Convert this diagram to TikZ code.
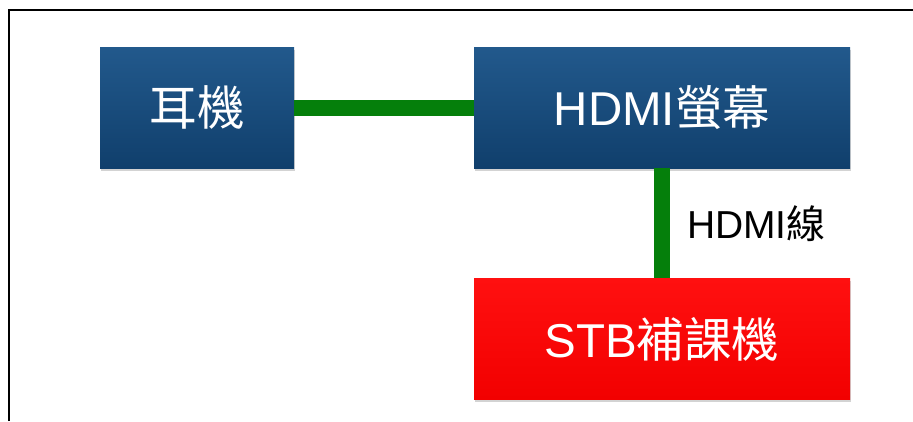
\documentclass[tikz,border=0pt]{standalone}
\usepackage{fontspec}
\setmainfont{Liberation Sans}
\newfontfamily\cjk{Noto Sans CJK TC}
\usetikzlibrary{shadows}
\definecolor{boxtop}{HTML}{22598C}
\definecolor{boxbot}{HTML}{103F6C}
\definecolor{redtop}{HTML}{FF1010}
\definecolor{redbot}{HTML}{F20000}
\definecolor{cablegreen}{HTML}{057F0B}

\begin{document}
\begin{tikzpicture}
  [x=1pt,y=-1pt,
   box/.style={rectangle,inner sep=0pt,minimum height=121pt,text=white,
     font=\fontsize{47.5}{52}\selectfont,
     drop shadow={opacity=0.35,shadow xshift=1pt,shadow yshift=-2.5pt}},
   bluebox/.style={box,top color=boxtop,bottom color=boxbot},
   redbox/.style={box,top color=redtop,bottom color=redbot},
   cable/.style={draw=cablegreen,line width=16pt}]
  \useasboundingbox (0,0) rectangle (913,421);
  \draw[line width=2pt] (9,421) -- (9,10) -- (913,10);

  \node[bluebox,minimum width=194pt] (ear) at (197,107.5) {\cjk 耳機};
  \node[bluebox,minimum width=376pt] (hdmi) at (662,107.5) {HDMI{\cjk 螢幕}};
  \node[redbox,minimum width=376pt] (stb) at (662,339) {STB{\cjk 補課機}};

\path[cable]
    (ear) edge (hdmi)
    (hdmi) edge node[right=17pt,inner sep=0pt,text=black,
      font=\fontsize{39}{44}\selectfont] {HDMI{\cjk 線}} (stb)
    ;

\end{tikzpicture}
\end{document}
